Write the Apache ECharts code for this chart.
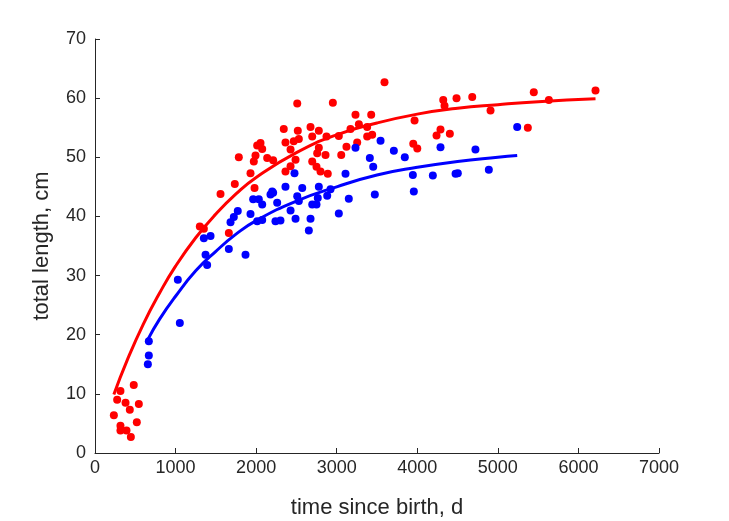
<!DOCTYPE html>
<html>
<head>
<meta charset="utf-8">
<script src="https://cdn.jsdelivr.net/npm/echarts@6/dist/echarts.min.js"></script>
<style>html,body{margin:0;padding:0;background:#fff}#c{width:729px;height:521px}</style>
</head>
<body>
<div id="c"></div>
<script>
// x tick values and y tick values
const xTicks = [0, 1000, 2000, 3000, 4000, 5000, 6000, 7000];
const yTicks = [0, 10, 20, 30, 40, 50, 60, 70];

// red observations: [time since birth (d), total length (cm)]
const redPoints = [
  [481,11.5],[316,10.5],[275,9.0],[379,8.5],[544,8.3],[432,7.3],[234,6.4],[519,5.2],[316,4.6],[316,3.8],[391,3.8],[445,2.7],
  [1735,45.5],[1558,43.8],[1301,38.3],[1351,37.9],[1661,37.2],
  [2510,59.1],[2952,59.2],[3233,57.2],[3428,57.2],[3275,55.6],[3378,55.1],[3171,54.8],[3440,53.8],[3378,53.5],[3254,52.5],[3121,51.8],[3056,50.4],
  [2343,54.8],[2517,54.5],[2675,55.1],[2778,54.5],[2696,53.5],[2873,53.5],[3026,53.6],[2530,53.1],[2467,52.7],[2364,52.5],[2054,52.4],[2013,52.0],[2075,51.4],[1992,50.3],[1785,50.0],[1971,49.3],[2137,49.9],[2211,49.5],[2427,51.3],[2489,49.6],[2696,49.3],[2778,51.6],[2758,50.7],[2861,50.4],[2749,48.4],[2799,47.6],[2889,47.2],[2427,48.5],[2364,47.6],[1930,47.3],[1980,44.8],
  [3593,62.7],[4322,59.7],[4487,60.0],[4682,60.2],[4338,58.7],[4909,57.9],[3966,56.2],[4288,54.7],[4239,53.7],[4404,54.0],[3950,52.3],[4000,51.5],[5446,61.0],[5633,59.7],[6212,61.3],[5372,55.0]
];

// blue observations
const bluePoints = [
  [668,18.9],[668,16.5],[656,15.0],
  [1053,22.0],[1028,29.3],[1372,33.5],[1392,31.8],[1661,34.5],[1868,33.5],[1351,36.3],[1434,36.7],[1682,39.0],[1723,39.9],[1772,40.9],[1930,40.4],[1963,42.9],[2033,42.9],[2075,42.0],[2178,43.7],[2211,44.0],[2364,45.0],[2261,42.3],[2075,39.4],[2013,39.2],[2240,39.2],[2302,39.3],[2427,41.0],[2489,39.6],[2510,43.4],[2530,42.6],
  [3233,51.6],[3411,49.9],[3453,48.4],[3473,43.7],[3150,43.0],[3026,40.5],[3109,47.2],[2923,44.6],[2882,43.5],[2778,45.0],[2765,43.1],[2696,42.0],[2749,42.0],[2675,39.6],[2654,37.6],[2572,44.8],[2476,47.3],[2199,44.2],
  [5240,55.1],[3544,52.8],[3709,51.1],[3845,50.0],[4288,51.7],[4722,51.3],[3945,47.0],[4193,46.9],[4475,47.2],[4503,47.3],[4888,47.9],[3957,44.2]
];

// fitted growth curves
const redCurve = [
  [234,9.9],[400,15.7],[600,21.8],[800,27.0],[1000,31.6],[1250,36.4],[1500,40.4],[1750,43.8],[2000,46.6],
  [2500,50.8],[3000,53.8],[3500,55.8],[4000,57.3],[4500,58.3],[5000,58.9],[5500,59.4],[6212,59.9]
];
const blueCurve = [
  [660,19.3],[800,22.6],[1000,26.5],[1250,30.8],[1500,34.1],[1750,37.0],[2000,39.3],[2500,42.6],
  [3000,45.0],[3500,47.0],[4000,48.3],[4500,49.3],[5000,50.0],[5240,50.3]
];

const FONT = '"Liberation Sans", Arial, Helvetica, sans-serif';
const AX = '#262626';

const chart = echarts.init(document.getElementById('c'), null, {renderer: 'canvas'});
chart.setOption({
  animation: false,
  backgroundColor: '#ffffff',
  grid: {left: 95, right: 70, top: 39, bottom: 68, containLabel: false, outerBoundsMode: 'none'},
  xAxis: {
    type: 'value', min: xTicks[0], max: xTicks[xTicks.length-1], interval: xTicks[1]-xTicks[0],
    name: 'time since birth, d', nameLocation: 'middle', nameGap: 44,
    nameTextStyle: {fontSize: 22, color: AX, fontFamily: FONT},
    axisLine: {show: true, lineStyle: {color: AX, width: 1}},
    axisTick: {show: true, inside: true, length: 5, lineStyle: {color: AX}},
    axisLabel: {fontSize: 18, color: AX, fontFamily: FONT, margin: 6, formatter: v => String(v)},
    splitLine: {show: false}
  },
  yAxis: {
    type: 'value', min: yTicks[0], max: yTicks[yTicks.length-1], interval: yTicks[1]-yTicks[0],
    name: 'total length, cm', nameLocation: 'middle', nameGap: 42, nameRotate: 90,
    nameTextStyle: {fontSize: 22, color: AX, fontFamily: FONT},
    axisLine: {show: true, lineStyle: {color: AX, width: 1}},
    axisTick: {show: true, inside: true, length: 5, lineStyle: {color: AX}},
    axisLabel: {fontSize: 18, color: AX, fontFamily: FONT, margin: 9, formatter: v => String(v)},
    splitLine: {show: false}
  },
  series: [
    {type: 'scatter', data: redPoints, symbol: 'circle', symbolSize: 8, itemStyle: {color: '#ff0000', opacity: 1}, z: 2},
    {type: 'scatter', data: bluePoints, symbol: 'circle', symbolSize: 8, itemStyle: {color: '#0000ff', opacity: 1}, z: 2},
    {type: 'line', data: redCurve, smooth: true, showSymbol: false, lineStyle: {color: '#ff0000', width: 3}, z: 3},
    {type: 'line', data: blueCurve, smooth: true, showSymbol: false, lineStyle: {color: '#0000ff', width: 3}, z: 3}
  ]
});
</script>
</body>
</html>
